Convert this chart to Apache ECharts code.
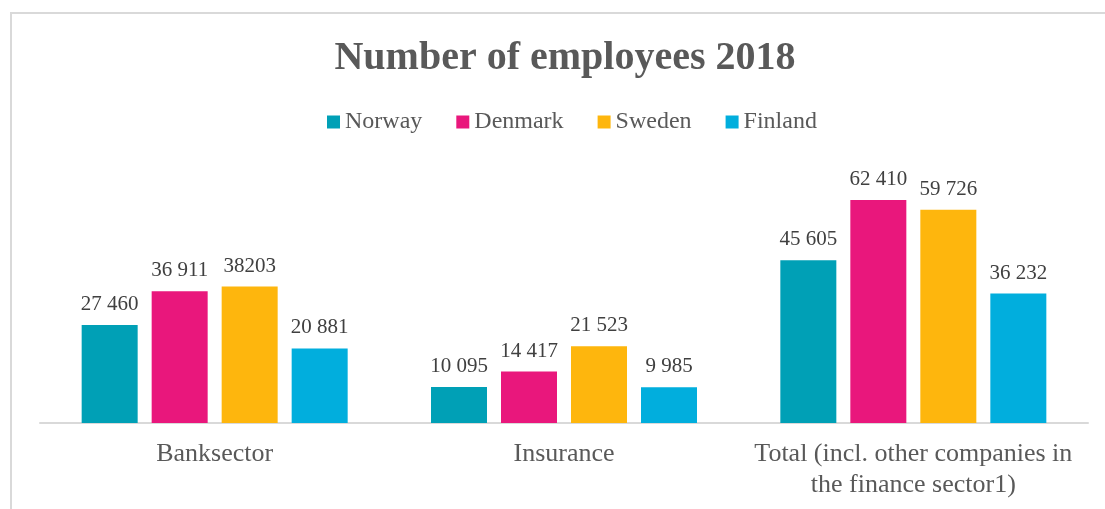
<!DOCTYPE html>
<html>
<head>
<meta charset="utf-8">
<title>Number of employees 2018</title>
<script src="https://cdn.jsdelivr.net/npm/echarts@6/dist/echarts.min.js"></script>
<style>
  html, body { margin: 0; padding: 0; background: #fff; }
  #main { width: 1105px; height: 509px; }
</style>
</head>
<body>
<div id="main"></div>
<script>
// data
var categories = ['Banksector', 'Insurance', 'Total (incl. other companies in\nthe finance sector1)']
var norway = [27460, 10095, 45605]
var denmark = [36911, 14417, 62410]
var sweden = [38203, 21523, 59726]
var finland = [20881, 9985, 36232]
// label texts as printed (one of them has no space)
var norwayLabels = ['27 460', '10 095', '45 605']
var denmarkLabels = ['36 911', '14 417', '62 410']
var swedenLabels = ['38203', '21 523', '59 726']
var finlandLabels = ['20 881', '9 985', '36 232']

var font = '"Liberation Serif", "DejaVu Serif", serif'

function makeSeries(name, data, labels, color) {
  return {
    name: name,
    type: 'bar',
    data: data,
    barWidth: 56,
    barGap: '25%',
    itemStyle: { color: color },
    label: {
      show: true,
      position: 'top',
      distance: 10,
      fontFamily: font,
      fontSize: 21,
      color: '#404040',
      formatter: function (p) { return labels[p.dataIndex] },
    },
  }
}

var myChart = echarts.init(document.getElementById('main'))
myChart.setOption({
  animation: false,
  title: {
    text: 'Number of employees 2018',
    left: 565,
    top: 39,
    padding: 0,
    textAlign: 'center',
    textStyle: {
      fontFamily: font,
      fontSize: 40,
      fontWeight: 'bold',
      color: '#595959',
    },
  },
  legend: {
    top: 105,
    left: 322,
    itemWidth: 13,
    itemHeight: 13,
    itemGap: 34,
    icon: 'rect',
    textStyle: {
      fontFamily: font,
      fontSize: 24,
      color: '#595959',
    },
    data: ['Norway', 'Denmark', 'Sweden', 'Finland'],
  },
  grid: {
    left: 40,
    right: 17,
    top: 173,
    bottom: 86,
    containLabel: false,
  },
  xAxis: {
    type: 'category',
    data: categories,
    axisTick: { show: false },
    axisLine: { lineStyle: { color: '#d9d9d9', width: 2 } },
    axisLabel: {
      margin: 16,
      fontFamily: font,
      fontSize: 26,
      lineHeight: 31,
      color: '#595959',
      interval: 0,
    },
  },
  yAxis: {
    type: 'value',
    min: 0,
    max: 70000,
    show: false,
    splitLine: { show: false },
  },
  graphic: [
    {
      type: 'rect',
      silent: true,
      shape: { x: 11, y: 13, width: 1200, height: 600 },
      style: { fill: 'none', stroke: '#d9d9d9', lineWidth: 2 },
    },
  ],
  series: [
    makeSeries('Norway', norway, norwayLabels, '#00a0b6'),
    makeSeries('Denmark', denmark, denmarkLabels, '#e9177c'),
    makeSeries('Sweden', sweden, swedenLabels, '#feb60d'),
    makeSeries('Finland', finland, finlandLabels, '#01aedd'),
  ],
})
</script>
</body>
</html>
